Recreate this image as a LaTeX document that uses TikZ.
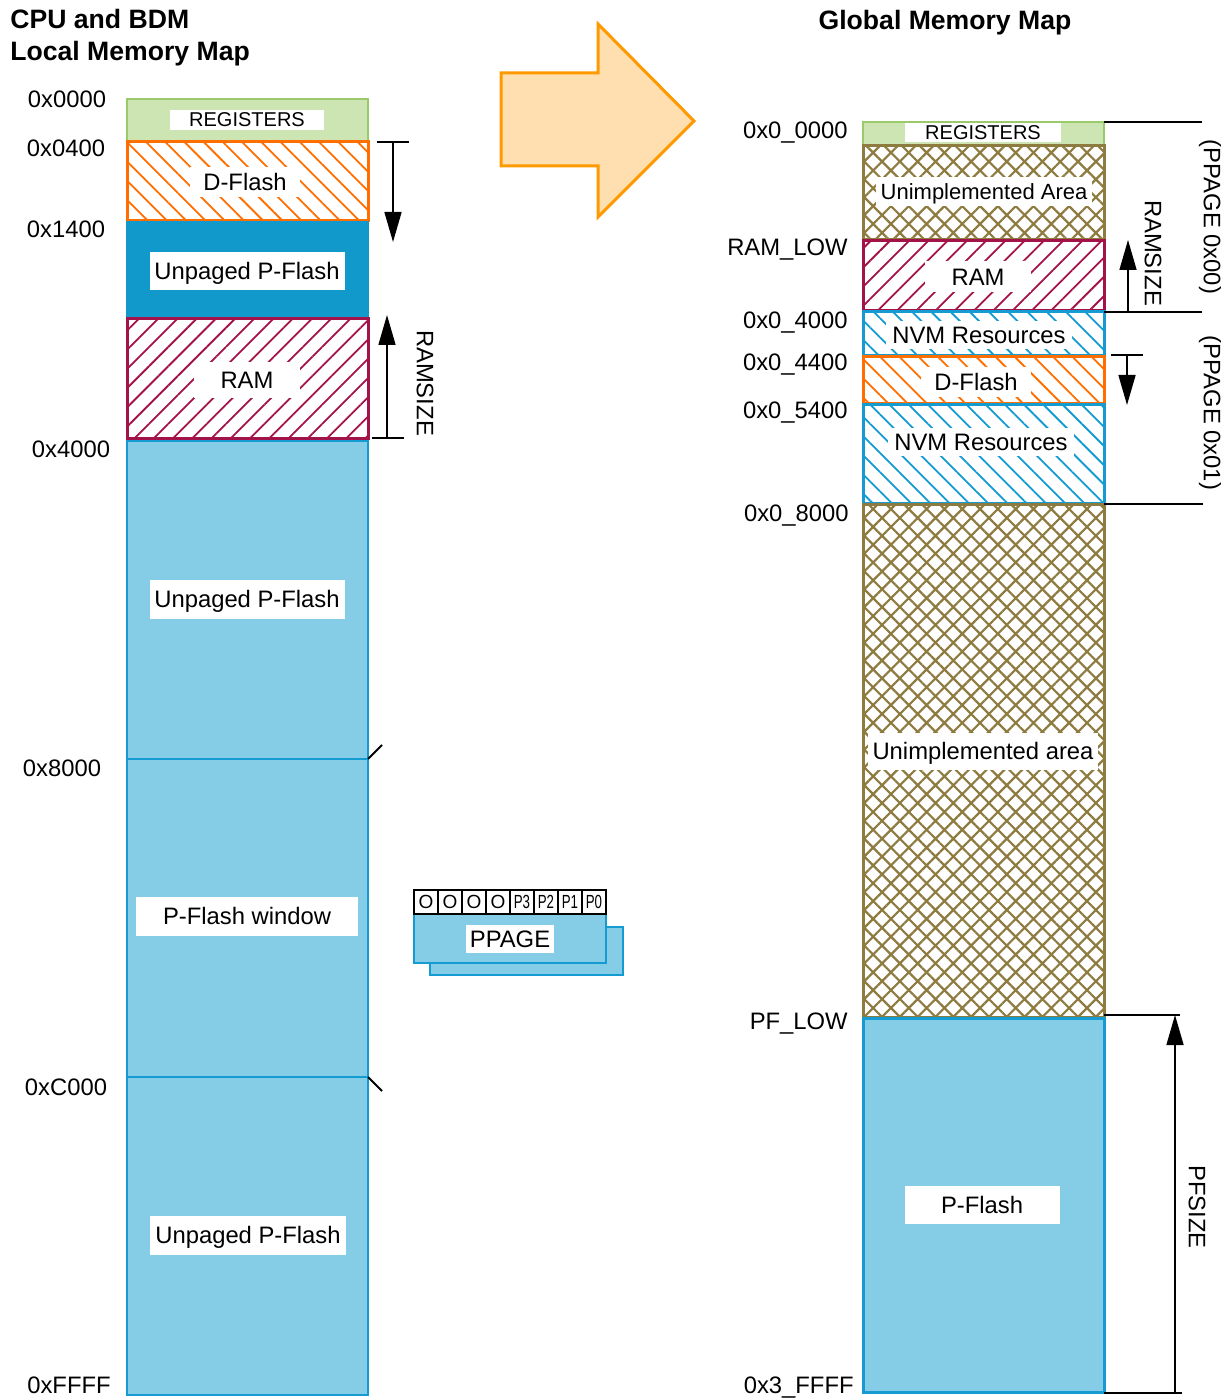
\documentclass[tikz,border=0pt]{standalone}
\usepackage{fontspec}
\setmainfont{Liberation Sans}
\usepackage{graphicx}
\usepackage{tikz}
\usetikzlibrary{arrows.meta,patterns.meta,positioning}
\definecolor{figgreen}{HTML}{CCE5B2}
\definecolor{figgreenb}{HTML}{9ACA6A}
\definecolor{figorange}{HTML}{FF6F00}
\definecolor{figdblue}{HTML}{1199CC}
\definecolor{figlblue}{HTML}{85CCE6}
\definecolor{figblue}{HTML}{149BD1}
\definecolor{figram}{HTML}{A3134A}
\definecolor{figolive}{HTML}{8E7B3F}
\definecolor{figarrowf}{HTML}{FFDEAF}
\definecolor{figarrowd}{HTML}{FF9900}

\begin{document}
\begin{tikzpicture}[x=0.5pt,y=-0.5pt,
  txt/.style={font=\fontsize{11.9}{14}\selectfont, inner sep=0pt, text depth=0pt},
  lbl/.style={fill=white, font=\fontsize{11.9}{14}\selectfont, inner sep=0pt, text depth=0pt},
  side/.style={font=\fontsize{11.9}{14}\selectfont, rotate=-90, inner sep=0pt},
  dim/.style={line width=0.75pt},
  dimarrow/.style={line width=0.75pt, -{Triangle[length=15pt,width=8.5pt]}},
  hatchR/.style={pattern={Lines[angle=45,distance=6.8pt,line width=0.9pt]}},
  hatchL/.style={pattern={Lines[angle=-45,distance=6.8pt,line width=0.9pt]}},
  cross/.style={pattern={Hatch[angle=45,distance=6.3pt,line width=1.1pt]}},
  bit/.style={draw, fill=white, line width=0.6pt, minimum width=12pt, minimum height=12pt, inner sep=0pt, font=\fontsize{9.5}{11}\selectfont}
]
\useasboundingbox (0,0) rectangle (1231,1400);
\fill[white] (0,0) rectangle (1231,1400);

% titles
\node[font=\bfseries\fontsize{13.3}{16}\selectfont, align=left, anchor=west, inner sep=0pt] (ltitle) at (10,38) {CPU and BDM\\Local Memory Map};
\node[font=\bfseries\fontsize{13.3}{16}\selectfont, inner sep=0pt, text depth=0pt] (rtitle) at (945,20) {Global Memory Map};

% local map
\filldraw[fill=figgreen, draw=figgreenb, line width=1.2pt] (127,99) rectangle (368,141);
\node[lbl, font=\fontsize{10}{12}\selectfont, minimum width=77pt, minimum height=10pt] (lreg) at (247,120) {REGISTERS};

\draw[hatchL, pattern color=figorange, draw=figorange, line width=1.5pt] (127,142) rectangle (368,221);
\node[lbl, minimum width=55pt, minimum height=15pt] (ldflash) at (245,182) {D-Flash};

\filldraw[fill=figdblue, draw=figdblue, line width=1pt] (127,222) rectangle (368,318);
\node[lbl, minimum width=97.5pt, minimum height=19pt] (lupf1) at (247,271) {Unpaged P-Flash};

\draw[hatchR, pattern color=figram, draw=figram, line width=1.5pt] (127,319) rectangle (368,439);
\node[lbl, minimum width=53pt, minimum height=18pt] (lram) at (247,380) {RAM};

\filldraw[fill=figlblue, draw=figblue, line width=1.2pt] (127,441) rectangle (368,1395);
\draw[figblue, line width=1.2pt] (127,759) -- (368,759);
\draw[figblue, line width=1.2pt] (127,1077) -- (368,1077);
\node[lbl, minimum width=97.5pt, minimum height=19.5pt] (lupf2) at (247,599) {Unpaged P-Flash};
\node[lbl, minimum width=111pt, minimum height=19.5pt] (lwin) at (247,916) {P-Flash window};
\node[lbl, minimum width=98pt, minimum height=19.5pt] (lupf3) at (248,1235) {Unpaged P-Flash};

\draw[line width=0.9pt] (368,759) -- (382,745);
\draw[line width=0.9pt] (368,1077) -- (382,1091);

% local addresses
\node[txt] (a0000) at (67,99) {0x0000};
\node[txt] (a0400) at (66,148) {0x0400};
\node[txt] (a1400) at (66,229) {0x1400};
\node[txt] (a4000) at (71,449) {0x4000};
\node[txt] (a8000) at (62,768) {0x8000};
\node[txt] (aC000) at (66,1087) {0xC000};
\node[txt] (aFFFF) at (69,1385) {0xFFFF};

% local size arrows
\coordinate (ldtop) at (393,142);
\coordinate (ldbot) at (393,242);
\draw[dim] (377,142) -- (409,142);
\draw[dimarrow] (ldtop) -- (ldbot);
\coordinate (lrbot) at (387,438);
\coordinate (lrtop) at (387,315);
\draw[dim] (372,438) -- (404,438);
\draw[dimarrow] (lrbot) -- (lrtop);
\node[side] (lramsize) at (425,383) {RAMSIZE};

% big arrow
\filldraw[fill=figarrowf, draw=figarrowd, line width=1.5pt, line join=miter]
  (501,73) -- (598,73) -- (598,24) -- (694,121) -- (598,217) -- (598,166) -- (501,166) -- cycle;

% PPAGE register
\filldraw[fill=figlblue, draw=figblue, line width=1.2pt] (430,927) rectangle (623,975);
\filldraw[fill=figlblue, draw=figblue, line width=1.2pt] (414,914) rectangle (606,963);
\foreach \t/\s [count=\i from 0] in {O/1,O/1,O/1,O/1,P3/0.7,P2/0.7,P1/0.7,P0/0.7}
  \node[bit] (b\i) at ({426+24*\i},902) {\scalebox{\s}[1]{\t}};
\node[lbl, minimum width=44pt, minimum height=14pt] (ppage) at (510,939) {PPAGE};

% global map
\filldraw[fill=figgreen, draw=figgreenb, line width=1.2pt] (863,122) rectangle (1104,145);
\node[lbl, font=\fontsize{10}{12}\selectfont, minimum width=78pt, minimum height=9.5pt] (greg) at (983,133) {REGISTERS};

\draw[cross, pattern color=figolive, draw=figolive, line width=1.5pt] (863,146) rectangle (1104,240);
\node[lbl, font=\fontsize{11}{13}\selectfont, minimum width=108pt, minimum height=14.5pt] (gun1) at (984,192) {Unimplemented Area};

\draw[hatchR, pattern color=figram, draw=figram, line width=1.5pt] (863,241) rectangle (1104,311);
\node[lbl, minimum width=53pt, minimum height=15.5pt] (gram) at (978,277) {RAM};

\draw[hatchL, pattern color=figblue, draw=figblue, line width=1.5pt] (863,312) rectangle (1104,356);
\node[lbl, minimum width=93pt, minimum height=14pt] (gnvm1) at (979,335) {NVM Resources};

\draw[hatchL, pattern color=figorange, draw=figorange, line width=1.5pt] (863,357) rectangle (1104,404);
\node[lbl, minimum width=55pt, minimum height=15pt] (gdflash) at (976,382) {D-Flash};

\draw[hatchL, pattern color=figblue, draw=figblue, line width=1.5pt] (863,405) rectangle (1104,504);
\node[lbl, minimum width=93pt, minimum height=14pt] (gnvm2) at (981,442) {NVM Resources};

\draw[cross, pattern color=figolive, draw=figolive, line width=1.5pt] (863,505) rectangle (1104,1017);
\node[lbl, minimum width=115pt, minimum height=18.5pt] (gun2) at (983,751) {Unimplemented area};

\filldraw[fill=figlblue, draw=figblue, line width=1.5pt] (863,1018) rectangle (1104,1392);
\node[lbl, minimum width=77.5pt, minimum height=19pt] (gpflash) at (982,1205) {P-Flash};

% global addresses
\node[txt, anchor=east] (g00000) at (848,130) {0x0\_0000};
\node[txt, anchor=east] (gramlow) at (848,247) {RAM\_LOW};
\node[txt, anchor=east] (g04000) at (848,320) {0x0\_4000};
\node[txt, anchor=east] (g04400) at (848,362) {0x0\_4400};
\node[txt, anchor=east] (g05400) at (848,410) {0x0\_5400};
\node[txt, anchor=east] (g08000) at (849,513) {0x0\_8000};
\node[txt, anchor=east] (gpflow) at (848,1021) {PF\_LOW};
\node[txt, anchor=east] (g3ffff) at (854,1385) {0x3\_FFFF};

% global size marks
\draw[dim] (1104,122) -- (1202,122);
\draw[dim] (1104,312) -- (1202,312);
\draw[dim] (1104,504) -- (1203,504);
\coordinate (grbot) at (1128,312);
\coordinate (grtop) at (1128,240);
\draw[dimarrow] (grbot) -- (grtop);
\node[side] (gramsize) at (1153,253) {RAMSIZE};
\coordinate (gdtop) at (1127,355);
\coordinate (gdbot) at (1127,405);
\draw[dim] (1111,355) -- (1143,355);
\draw[dimarrow] (gdtop) -- (gdbot);
\node[side] (gpage0) at (1210,217) {(PPAGE 0x00)};
\node[side] (gpage1) at (1210,413) {(PPAGE 0x01)};

\coordinate (gpbot) at (1175,1393);
\coordinate (gptop) at (1175,1015);
\draw[dim] (1104,1015) -- (1180,1015);
\draw[dim] (1104,1393) -- (1182,1393);
\draw[dimarrow] (gpbot) -- (gptop);
\node[side] (gpfsize) at (1197,1207) {PFSIZE};
\end{tikzpicture}
\end{document}
